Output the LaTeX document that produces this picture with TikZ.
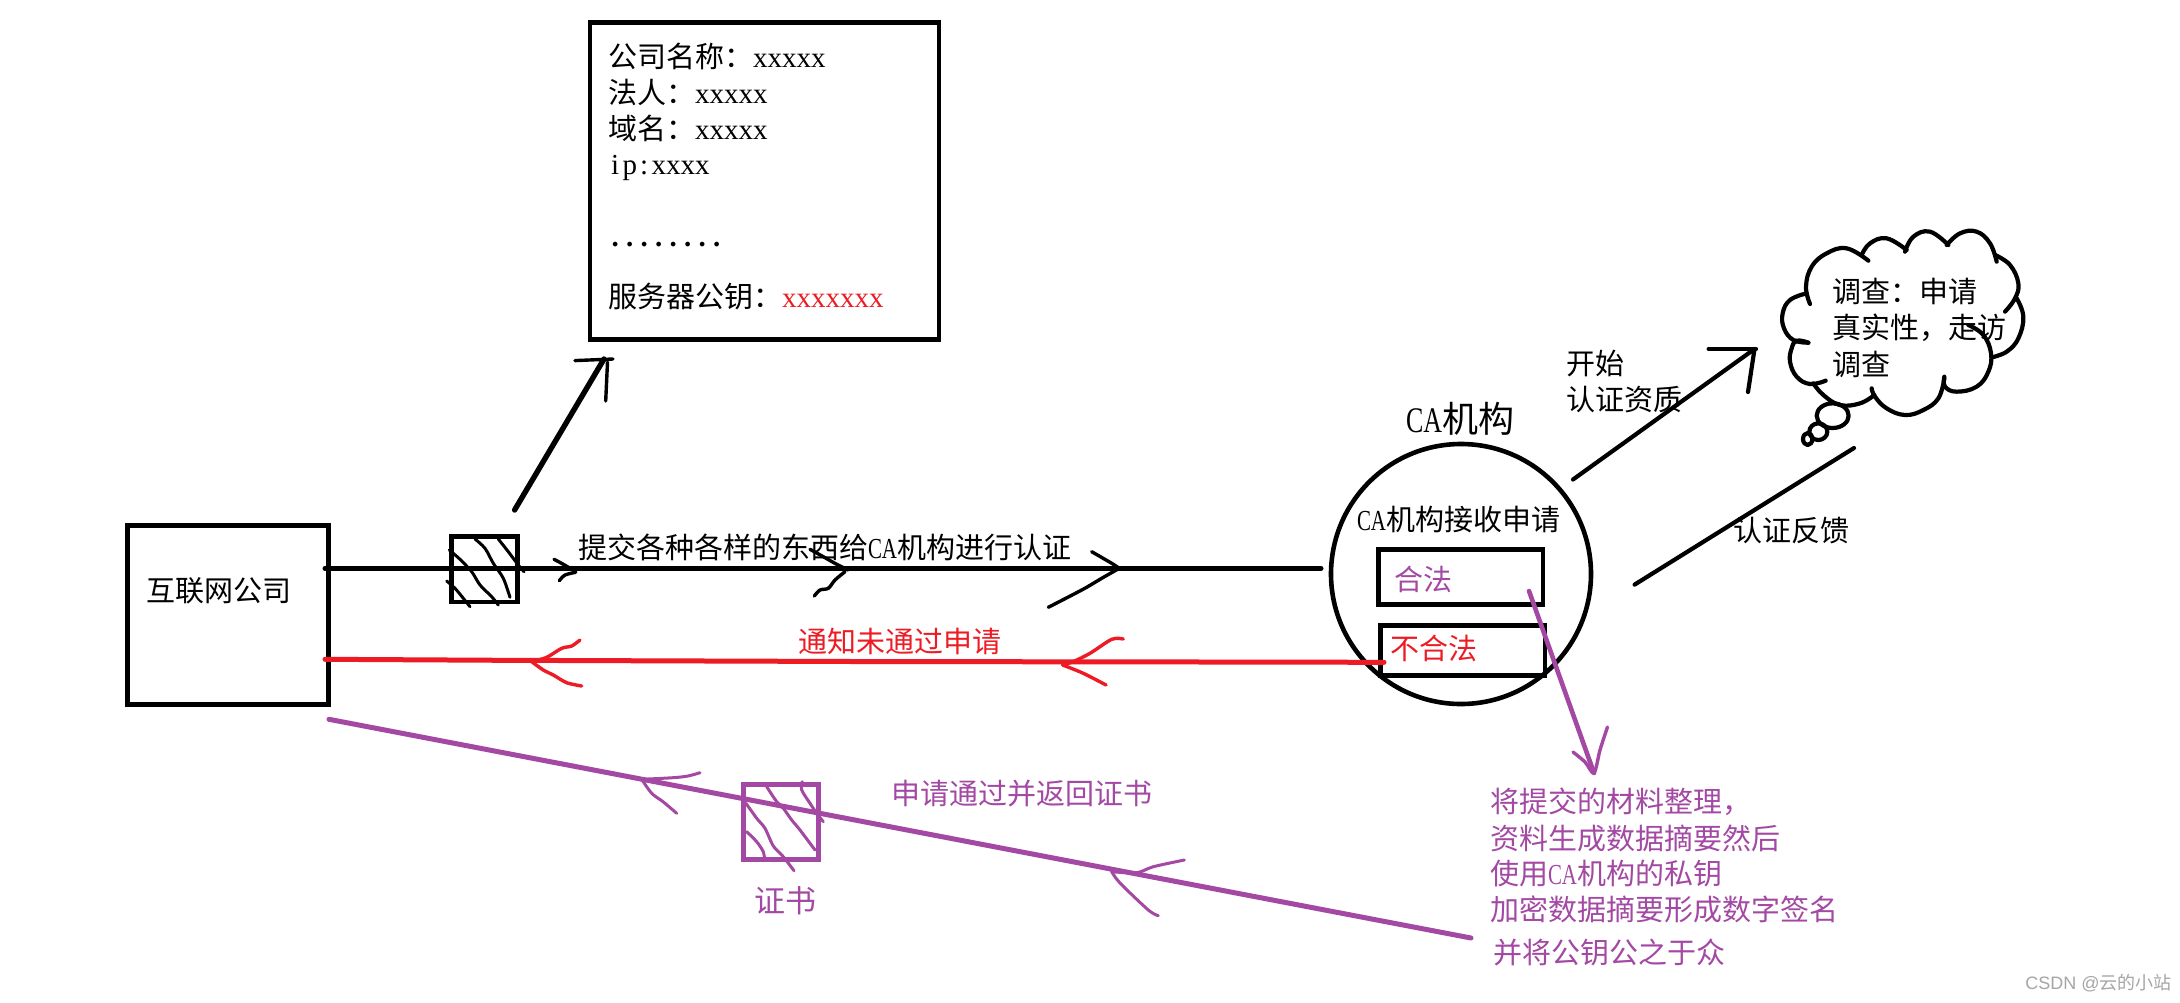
\documentclass[tikz,border=0pt]{standalone}
\usepackage{fontspec}
\setmainfont{Liberation Serif}
\newfontfamily\cjk{Noto Sans CJK SC}
\newfontfamily\caf[FakeStretch=0.72]{Liberation Serif}
\newfontfamily\wmfont{Liberation Sans}
\newcommand{\lat}[1]{{\caf #1}}
\newcommand{\xs}[1]{{\rmfamily #1}}
\newcommand{\cellch}[1]{\makebox[0.5em]{\rmfamily #1}}
\definecolor{mspurple}{HTML}{A349A4}
\definecolor{msred}{HTML}{ED1C24}
\tikzset{
  lab/.style={anchor=base west,inner sep=0pt,outer sep=0pt,font=\fontsize{14.5}{18}\selectfont\cjk},
  bigger/.style={font=\fontsize{15.5}{18}\selectfont\cjk},
  huge/.style={font=\fontsize{18}{20}\selectfont\cjk},
  frame/.style={draw,line width=2.35pt,rectangle,inner sep=0pt},
  stroke/.style={line width=2.5pt,line cap=round,line join=round},
  pen/.style={line width=1.5pt,line cap=round,line join=round},
  thinstroke/.style={line width=2.1pt,line cap=round,line join=round},
}
\begin{document}
\begin{tikzpicture}[x=0.5pt,y=-0.5pt]
\useasboundingbox[fill=white] (0,0) rectangle (2180,1002);
% boxes
\node[frame,minimum width=100.45pt,minimum height=89.3pt] (company) at (227.9,615) {};
\node[frame,minimum width=33pt,minimum height=32.7pt] (doc) at (484.7,569.3) {};
\node[frame,minimum width=174.5pt,minimum height=158.5pt] (info) at (764.5,180.75) {};
\node[frame,draw=mspurple,minimum width=37.5pt,minimum height=37.35pt] (cert) at (780.8,822) {};
\node[draw,circle,line width=2.3pt,minimum size=130pt,inner sep=0pt] (ca) at (1461,574) {};
\node[frame,minimum width=82.3pt,minimum height=27.3pt] (ok) at (1460.7,577) {};
\node[frame,minimum width=82.2pt,minimum height=24.9pt] (bad) at (1462.8,650.5) {};
% connector ends
\coordinate (blackA) at (325,568.3);
\coordinate (blackB) at (1321,568.3);
\coordinate (redA) at (1384,662.3);
\coordinate (redM1) at (1206.7,662);
\coordinate (redM2) at (854,661.5);
\coordinate (redM3) at (502.7,660.3);
\coordinate (redB) at (325,659.3);
\coordinate (purA) at (1471,938);
\coordinate (purB) at (329,719.3);
\coordinate (upA) at (514.6,510);
\coordinate (upB) at (604,359);
\coordinate (startA) at (1573,479.5);
\coordinate (startB) at (1754.5,349);
\coordinate (fbA) at (1854,448);
\coordinate (fbB) at (1634.6,584.6);
\coordinate (legalA) at (1529,591);
\coordinate (legalB) at (1594,773);
% black line + heads
\draw[stroke] (blackA) -- (blackB);
\draw[pen,line width=1.7pt] plot[smooth,tension=0.5] coordinates {(554,559.3) (563.3,564.3) (575.7,571.7)};
\draw[pen,line width=1.7pt] plot[smooth,tension=0.5] coordinates {(575.7,572.3) (565,575) (559.3,580.7)};
\draw[pen,line width=1.7pt] plot[smooth,tension=0.5] coordinates {(810,549.3) (823.3,556.7) (836.7,564.3) (848.3,570)};
\draw[pen,line width=1.7pt] plot[smooth,tension=0.5] coordinates {(845,571.7) (835,580) (828.3,588.3) (820,590) (814.3,596)};
\draw[pen,line width=1.7pt] plot[smooth,tension=0.5] coordinates {(1091.7,551.7) (1111.7,563.3) (1119.3,568.3)};
\draw[pen,line width=1.7pt] plot[smooth,tension=0.5] coordinates {(1119.3,568.3) (1101.7,578.3) (1083,589.3) (1048.3,607.3)};
% hatch black
\draw[pen] plot[smooth,tension=0.5] coordinates {(475,539) (485,548.3) (493.3,563.3) (503.3,578.3) (510,597.3)};
\draw[pen] plot[smooth,tension=0.5] coordinates {(498.3,539) (508.3,551.7) (518.3,565) (524,571.7)};
\draw[pen] plot[smooth,tension=0.5] coordinates {(449.3,550) (460,559.3) (471.7,571.7) (480,585) (491.7,596.7) (498.3,605)};
\draw[pen] plot[smooth,tension=0.5] coordinates {(446.7,581) (455,588.3) (463.3,598.3) (470,606.7)};
% up arrow
\draw[stroke,line width=2.7pt] (upA) -- (upB);
\draw[pen,line width=1.7pt] (575,360.6) -- (613,359);
\draw[pen,line width=1.7pt] (607.5,362) -- (605.7,401);
% red
\draw[stroke,msred] (redA) -- (redM1) -- (redM2) -- (redM3) -- (redB);
\draw[pen,line width=1.7pt,msred] plot[smooth,tension=0.5] coordinates {(531.7,661.7) (546.7,657.3) (561.7,648.3) (571.7,646) (580,640)};
\draw[pen,line width=1.7pt,msred] plot[smooth,tension=0.5] coordinates {(531.7,661.7) (543.3,670) (553.3,675) (566.7,682.7) (581.7,686)};
\draw[pen,line width=1.7pt,msred] plot[smooth,tension=0.5] coordinates {(1062.7,665) (1073,661.7) (1090,653.3) (1111.7,639.3) (1123.3,639)};
\draw[pen,line width=1.7pt,msred] plot[smooth,tension=0.5] coordinates {(1062.7,665) (1083.3,673.3) (1106,685)};
% purple
\draw[stroke,mspurple] (purA) -- (purB);
\draw[pen,mspurple] plot[smooth,tension=0.5] coordinates {(641.7,779.3) (673,777.7) (688,776) (700,772.7)};
\draw[pen,mspurple] plot[smooth,tension=0.5] coordinates {(641.7,779.3) (651.7,793.3) (663,801.7) (676.7,813.3)};
\draw[pen,mspurple] plot[smooth,tension=0.5] coordinates {(1111.7,871.7) (1136.7,872.7) (1153.3,866.7) (1184.3,860)};
\draw[pen,mspurple] plot[smooth,tension=0.5] coordinates {(1111.7,871.7) (1120,883) (1148.3,910) (1158.3,915.7)};
\draw[pen,mspurple] plot[smooth,tension=0.5] coordinates {(766.7,786.7) (776.7,801.7) (783.3,808.3) (791.7,820) (800,830) (815,850)};
\draw[pen,mspurple] plot[smooth,tension=0.5] coordinates {(802.3,781.7) (801.7,790) (810,803.3) (816.7,813.3) (823.3,821.7)};
\draw[pen,mspurple] plot[smooth,tension=0.5] coordinates {(746,803.3) (756.7,818.3) (765,828.3) (773.3,846) (783.3,856.7) (794,870.7)};
\draw[pen,mspurple] plot[smooth,tension=0.5] coordinates {(746.7,831.7) (756.7,841.7) (763.3,851.7) (764.3,857.3)};
% CA arrows
\draw[thinstroke] (startA) -- (startB);
\draw[thinstroke] (1708.6,349) -- (1756,349);
\draw[thinstroke] (1754.5,349) -- (1748,392);
\draw[thinstroke] (fbA) -- (fbB);
\draw[stroke,line width=2.3pt,mspurple] (legalA) -- (legalB);
\draw[pen,line width=1.7pt,mspurple] plot[smooth,tension=0.5] coordinates {(1573,752) (1585,762) (1594,773) (1600,750) (1607.5,727)};
% cloud
\begin{scope}[shift={(1780,230)},x=0.16667pt,y=-0.16667pt,thinstroke]
\draw plot[smooth,tension=0.7] coordinates {(90,222) (78,170) (95,110) (140,70) (200,55) (265,92)};
\draw plot[smooth,tension=0.7] coordinates {(245,75) (270,40) (320,25) (380,60)};
\draw plot[smooth,tension=0.7] coordinates {(375,65) (400,20) (450,5) (505,45)};
\draw plot[smooth,tension=0.7] coordinates {(500,45) (540,10) (590,5) (630,40) (650,95)};
\draw plot[smooth,tension=0.7] coordinates {(645,75) (690,105) (715,160) (705,205) (675,245)};
\draw plot[smooth,tension=0.7] coordinates {(710,205) (730,260) (715,325) (680,365) (635,382)};
\draw plot[smooth,tension=0.7] coordinates {(565,285) (610,315) (633,370) (625,425) (590,470) (530,485) (495,470) (493,440)};
\draw plot[smooth,tension=0.7] coordinates {(493,445) (475,505) (430,540) (375,555) (320,535) (285,500) (275,475)};
\draw plot[smooth,tension=0.7] coordinates {(283,495) (240,520) (180,525) (130,495) (100,460)};
\draw plot[smooth,tension=0.7] coordinates {(137,452) (90,462) (50,440) (30,395) (35,355) (50,332) (85,338)};
\draw plot[smooth,tension=0.7] coordinates {(85,338) (40,330) (12,295) (8,250) (30,210) (80,190)};
\draw (158,557) ellipse [x radius=48,y radius=37];
\draw (115,605) ellipse [x radius=27,y radius=25];
\draw (83,627) ellipse [x radius=14,y radius=18];
\end{scope}
% texts
\node[lab] (t1) at (608,67) {公司名称：\xs{xxxxx}};
\node[lab] (t2) at (608,103) {法人：\xs{xxxxx}};
\node[lab] (t3) at (608,139) {域名：\xs{xxxxx}};
\node[lab] (t4) at (608,174) {\cellch{i}\cellch{p}\cellch{:}\xs{xxxx}};
\node[lab] (t5) at (608,246) {\cellch{\bfseries .}\cellch{\bfseries .}\cellch{\bfseries .}\cellch{\bfseries .}\cellch{\bfseries .}\cellch{\bfseries .}\cellch{\bfseries .}\cellch{\bfseries .}};
\node[lab] (t6) at (608,307) {服务器公钥：\textcolor{msred}{\xs{xxxxxxx}}};
\node[lab] (t7) at (146,601) {互联网公司};
\node[lab] (t8) at (578,558) {提交各种各样的东西给\lat{CA}机构进行认证};
\node[lab,msred] (t9) at (798,652) {通知未通过申请};
\node[lab,mspurple] (t10) at (891,804) {申请通过并返回证书};
\node[lab,bigger,mspurple] (t11) at (754,912) {证书};
\node[lab,huge] (t12) at (1406,432) {\lat{CA}机构};
\node[lab] (t13) at (1357,530) {\lat{CA}机构接收申请};
\node[lab,mspurple] (t14) at (1394,590) {合法};
\node[lab,msred] (t15) at (1390,659) {不合法};
\node[lab] (t16) at (1566,374) {开始};
\node[lab] (t17) at (1566,410) {认证资质};
\node[lab] (t18) at (1733,541) {认证反馈};
\node[lab] (t19) at (1832,302) {调查：申请};
\node[lab] (t20) at (1832,338) {真实性，走访};
\node[lab] (t21) at (1832,375) {调查};
\node[lab,mspurple] (t22) at (1490,812) {将提交的材料整理，};
\node[lab,mspurple] (t23) at (1490,849) {资料生成数据摘要然后};
\node[lab,mspurple] (t24) at (1490,884) {使用\lat{CA}机构的私钥};
\node[lab,mspurple] (t25) at (1490,920) {加密数据摘要形成数字签名};
\node[lab,mspurple] (t26) at (1493,963) {并将公钥公之于众};
\node[anchor=base east,inner sep=0pt,text=gray!70,font=\fontsize{9}{10}\selectfont\wmfont] (wm) at (2172,989) {CSDN @{\cjk 云的小站}};
\end{tikzpicture}
\end{document}
